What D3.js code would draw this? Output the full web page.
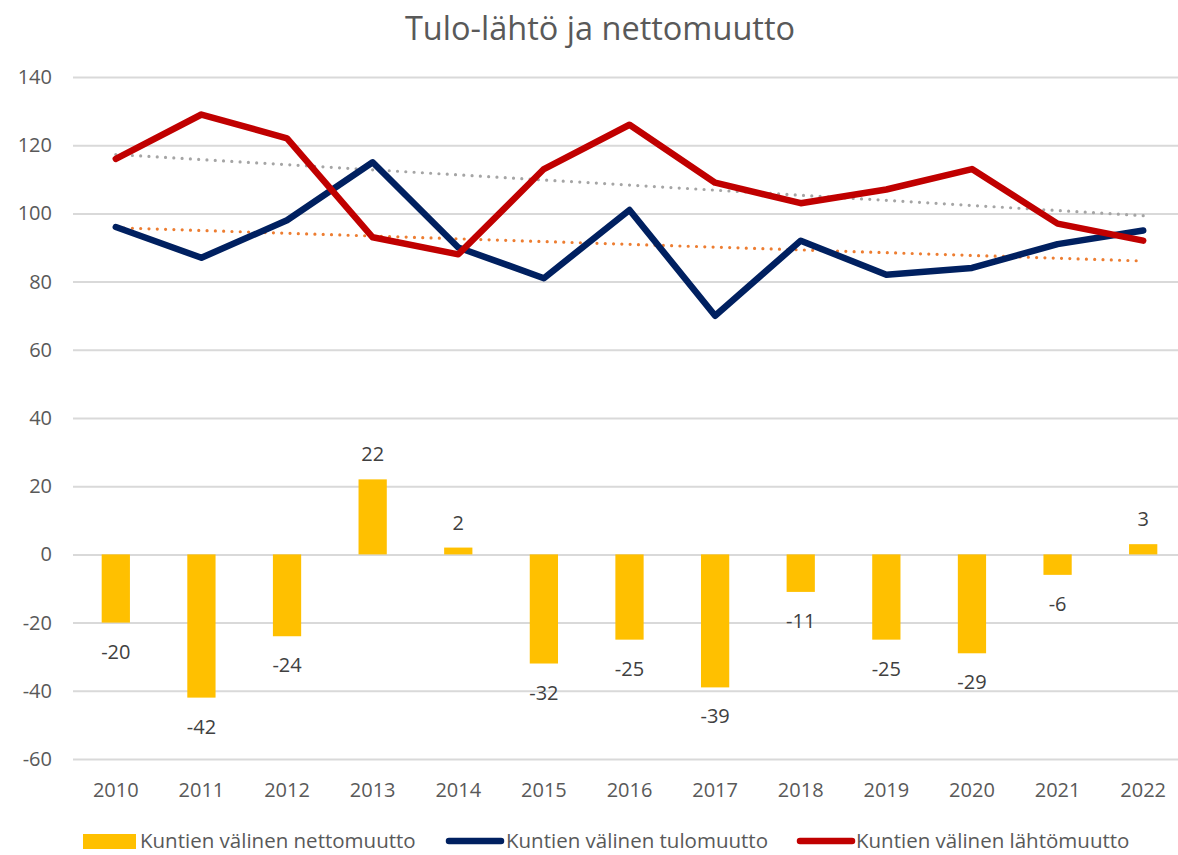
<!DOCTYPE html>
<html><head><meta charset="utf-8">
<script src="https://cdn.jsdelivr.net/npm/d3@7"></script>
<style>body{margin:0;background:#fff}svg{display:block}text{font-family:"Open Sans","Noto Sans",sans-serif}</style>
</head><body><svg id="c" width="1178" height="855"></svg>
<script>
const years = ["2010","2011","2012","2013","2014","2015","2016","2017","2018","2019","2020","2021","2022"];
const tulo = [96,87,98,115,90,81,101,70,92,82,84,91,95];
const lahto = [116,129,122,93,88,113,126,109,103,107,113,97,92];
const netto = [-20,-42,-24,22,2,-32,-25,-39,-11,-25,-29,-6,3];
const yTicks = [-60,-40,-20,0,20,40,60,80,100,120,140];
const seriesNames = ["Kuntien välinen nettomuutto","Kuntien välinen tulomuutto","Kuntien välinen lähtömuutto"];
const colors = {netto:"#FFC000", tulo:"#002060", lahto:"#C00000", trendTulo:"#ED7D31", trendLahto:"#A5A5A5"};

const svg = d3.select("#c");
const x = d3.scaleBand().domain(years).range([73,1186]).paddingInner(0.67).paddingOuter(0.335);
const xc = d => x(d) + x.bandwidth()/2;
const y = d3.scaleLinear().domain([-60,140]).range([759,77]);
const FF = "'Open Sans','Noto Sans',sans-serif";

// title
svg.append("text").attr("x",600).attr("y",40).attr("text-anchor","middle")
  .attr("font-size",32.5).attr("fill","#595959").text("Tulo-lähtö ja nettomuutto");

// grid
const yAxis = d3.axisLeft(y).tickValues(yTicks).tickFormat(d=>String(d)).tickSize(-(1186-73)).tickPadding(21);
const gy = svg.append("g").attr("transform","translate(73,0)").call(yAxis);
gy.select(".domain").remove();
gy.selectAll(".tick line").attr("stroke","#D9D9D9").attr("stroke-width",2);
gy.selectAll(".tick text").attr("font-size",20).attr("fill","#595959").attr("font-family",FF);

// x axis labels
const xAxis = d3.axisBottom(x).tickSize(0).tickPadding(12);
const gx = svg.append("g").attr("transform","translate(0,771)").call(xAxis);
gx.select(".domain").remove();
gx.selectAll(".tick text").attr("font-size",20).attr("fill","#595959").attr("font-family",FF);

// bars
svg.append("g").selectAll("rect").data(netto).join("rect")
  .attr("x",(d,i)=>x(years[i])).attr("width",x.bandwidth())
  .attr("y",d=>y(Math.max(0,d))).attr("height",d=>Math.abs(y(d)-y(0)))
  .attr("fill",colors.netto);
svg.append("g").selectAll("text").data(netto).join("text")
  .attr("x",(d,i)=>xc(years[i])).attr("y",d=> d<0 ? y(d)+36 : y(d)-18)
  .attr("text-anchor","middle").attr("font-size",20).attr("fill","#404040").text(d=>String(d));

// trendlines
function trend(vals){
  const xs=vals.map((v,i)=>i+1);
  const mx=d3.mean(xs), my=d3.mean(vals);
  const b=d3.sum(xs.map((xv,i)=>(xv-mx)*(vals[i]-my)))/d3.sum(xs.map(xv=>(xv-mx)**2));
  const a=my-b*mx;
  return xs.map(xv=>a+b*xv);
}
const line = d3.line().x((d,i)=>xc(years[i])).y(d=>y(d));
[[trend(lahto),colors.trendLahto],[trend(tulo),colors.trendTulo]].forEach(([t,c])=>{
  svg.append("path").attr("d",line(t)).attr("fill","none").attr("stroke",c)
    .attr("stroke-width",3.2).attr("stroke-linecap","round").attr("stroke-dasharray","0 8.3");
});

// lines
[[tulo,colors.tulo],[lahto,colors.lahto]].forEach(([v,c])=>{
  svg.append("path").attr("d",line(v)).attr("fill","none").attr("stroke",c)
    .attr("stroke-width",6.5).attr("stroke-linecap","round").attr("stroke-linejoin","round");
});

// legend
const lg = svg.append("g");
lg.append("rect").attr("x",83).attr("y",834).attr("width",53).attr("height",15).attr("fill",colors.netto);
lg.append("text").attr("x",140).attr("y",848).attr("font-size",20.5).attr("fill","#595959").text(seriesNames[0]);
lg.append("line").attr("x1",449).attr("x2",501).attr("y1",841).attr("y2",841).attr("stroke",colors.tulo).attr("stroke-width",6.5).attr("stroke-linecap","round");
lg.append("text").attr("x",506).attr("y",848).attr("font-size",20.5).attr("fill","#595959").text(seriesNames[1]);
lg.append("line").attr("x1",800).attr("x2",852).attr("y1",841).attr("y2",841).attr("stroke",colors.lahto).attr("stroke-width",6.5).attr("stroke-linecap","round");
lg.append("text").attr("x",856).attr("y",848).attr("font-size",20.5).attr("fill","#595959").text(seriesNames[2]);
</script></body></html>
